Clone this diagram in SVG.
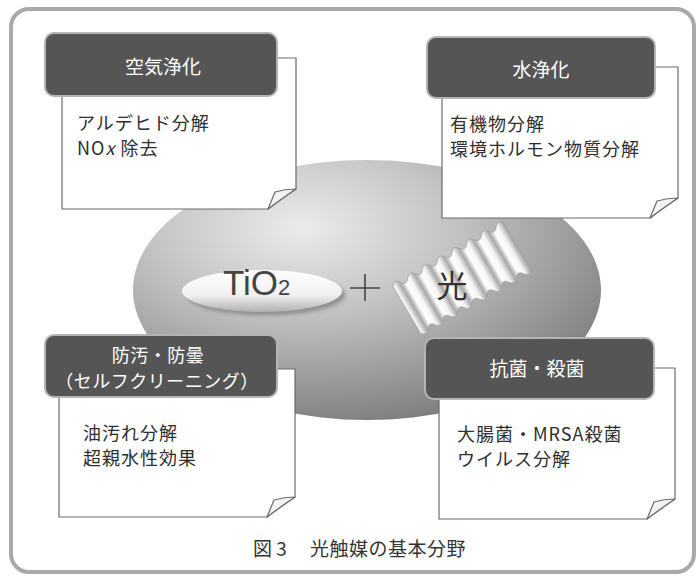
<svg xmlns="http://www.w3.org/2000/svg" width="699" height="580" viewBox="0 0 699 580">
  <style>
    .frame { fill: #ffffff; stroke: #a9a9a9; stroke-width: 4; }
    .paper { fill: #ffffff; stroke: #6a6a6a; stroke-width: 1.2; }
    .flap { fill: #f2f2f2; stroke: #6a6a6a; stroke-width: 1.2; stroke-linejoin: round; }
    .head { fill: #555555; stroke: #b4b4b4; stroke-width: 2; }
    .htxt { font-family: "Noto Sans CJK JP", "Noto Sans", sans-serif; font-size: 19px; fill: #ffffff; text-anchor: middle; }
    .htxt2 { font-size: 18px; letter-spacing: 0.5px; }
    .btxt { font-family: "Noto Sans CJK JP", "Noto Sans", sans-serif; font-size: 18px; letter-spacing: 1px; fill: #2e2e2e; }
    .cap { font-family: "Noto Sans CJK JP", "Noto Sans", sans-serif; font-size: 19px; fill: #333333; }
  </style>
  <defs>
    <radialGradient id="blob" cx="0.36" cy="0.26" r="0.8">
      <stop offset="0" stop-color="#ebebeb"/>
      <stop offset="0.4" stop-color="#c4c4c4"/>
      <stop offset="1" stop-color="#7a7a7a"/>
    </radialGradient>
    <linearGradient id="disc" x1="0" y1="0" x2="0" y2="1">
      <stop offset="0" stop-color="#ffffff"/>
      <stop offset="0.6" stop-color="#f0f0f0"/>
      <stop offset="1" stop-color="#b0b0b0"/>
    </linearGradient>
    <linearGradient id="ridge" gradientUnits="userSpaceOnUse" x1="0" y1="0" x2="17" y2="0" spreadMethod="repeat">
      <stop offset="0" stop-color="#ffffff"/>
      <stop offset="0.35" stop-color="#f4f4f4"/>
      <stop offset="0.7" stop-color="#a8a8a8"/>
      <stop offset="0.85" stop-color="#cfcfcf"/>
      <stop offset="1" stop-color="#ffffff"/>
    </linearGradient>
    <filter id="soft" x="-20%" y="-50%" width="140%" height="200%">
      <feGaussianBlur stdDeviation="2"/>
    </filter>
  </defs>

  <!-- page frame -->
  <rect class="frame" x="11" y="9" width="683" height="563" rx="18"/>

  <!-- central field -->
  <g id="center">
    <ellipse cx="367" cy="290" rx="234" ry="130" fill="url(#blob)"/>

    <!-- TiO2 disc -->
    <g id="tio2">
      <ellipse cx="266" cy="295" rx="79" ry="20" fill="#666" opacity="0.6" filter="url(#soft)"/>
      <ellipse cx="262" cy="291" rx="80" ry="21" fill="url(#disc)"/>
      <text x="223" y="295" font-family="Liberation Sans, Arial, sans-serif" font-size="35" fill="#454545">TiO<tspan font-size="22">2</tspan></text>
    </g>

    <!-- plus sign -->
    <path d="M350 288 H380 M365 274 V301" stroke="#444" stroke-width="1.6" fill="none"/>

    <!-- light wave ribbon -->
    <g id="light" transform="translate(462 278) rotate(-30)">
      <path d="M-64 -27 q4.25 -6 8.5 0 t8.5 0 t8.5 0 t8.5 0 t8.5 0 t8.5 0 t8.5 0 t8.5 0 t8.5 0 t8.5 0 t8.5 0 t8.5 0 t8.5 0 t8.5 0 t8.5 0 L64 27 q-4.25 6 -8.5 0 t-8.5 0 t-8.5 0 t-8.5 0 t-8.5 0 t-8.5 0 t-8.5 0 t-8.5 0 t-8.5 0 t-8.5 0 t-8.5 0 t-8.5 0 t-8.5 0 t-8.5 0 t-8.5 0 Z" fill="url(#ridge)" stroke="#9a9a9a" stroke-width="0.6"/>
    </g>
    <text x="452" y="297" font-family="Noto Sans CJK JP, sans-serif" font-size="31" fill="#333" text-anchor="middle">光</text>
  </g>

  <!-- 空気浄化 -->
  <g id="air">
    <path class="paper" d="M62 58 H296 V189 Q284 197 268 209 H62 Z"/>
    <path class="flap" d="M268 209 L275 192 Q285 189 296 189 Q284 197 268 209 Z"/>
    <rect class="head" x="45" y="33" width="232" height="63" rx="9"/>
    <text class="htxt" x="163" y="74">空気浄化</text>
    <text class="btxt" x="77" y="130">アルデヒド分解</text>
    <text class="btxt" x="77" y="155">NO<tspan font-style="italic">x</tspan> 除去</text>
  </g>

  <!-- 水浄化 -->
  <g id="water">
    <path class="paper" d="M442 67 H678 V198 Q666 206 650 218 H442 Z"/>
    <path class="flap" d="M650 218 L657 201 Q667 198 678 198 Q666 206 650 218 Z"/>
    <rect class="head" x="427" y="37" width="228" height="61" rx="9"/>
    <text class="htxt" x="541" y="77">水浄化</text>
    <text class="btxt" x="450" y="131">有機物分解</text>
    <text class="btxt" x="450" y="156">環境ホルモン物質分解</text>
  </g>

  <!-- 防汚・防曇 -->
  <g id="antifouling">
    <path class="paper" d="M59 369 H295 V497 Q283 505 267 517 H59 Z"/>
    <path class="flap" d="M267 517 L274 500 Q284 497 295 497 Q283 505 267 517 Z"/>
    <rect class="head" x="45" y="335" width="232" height="62" rx="9"/>
    <text class="htxt htxt2" x="158" y="361.5">防汚・防曇</text>
    <text class="htxt htxt2" x="157" y="387.8">（セルフクリーニング）</text>
    <text class="btxt" x="83" y="440">油汚れ分解</text>
    <text class="btxt" x="83" y="465">超親水性効果</text>
  </g>

  <!-- 抗菌・殺菌 -->
  <g id="antibacterial">
    <path class="paper" d="M439 368 H675 V499 Q663 507 647 519 H439 Z"/>
    <path class="flap" d="M647 519 L654 502 Q664 499 675 499 Q663 507 647 519 Z"/>
    <rect class="head" x="425" y="338" width="229" height="61" rx="9"/>
    <text class="htxt" x="537" y="376">抗菌・殺菌</text>
    <text class="btxt" x="457" y="441">大腸菌・MRSA殺菌</text>
    <text class="btxt" x="457" y="466">ウイルス分解</text>
  </g>

  <!-- caption -->
  <g id="caption">
    <text class="cap" x="253" y="556">図 3</text>
    <text class="cap" x="310" y="556" letter-spacing="0.5">光触媒の基本分野</text>
  </g>
</svg>
